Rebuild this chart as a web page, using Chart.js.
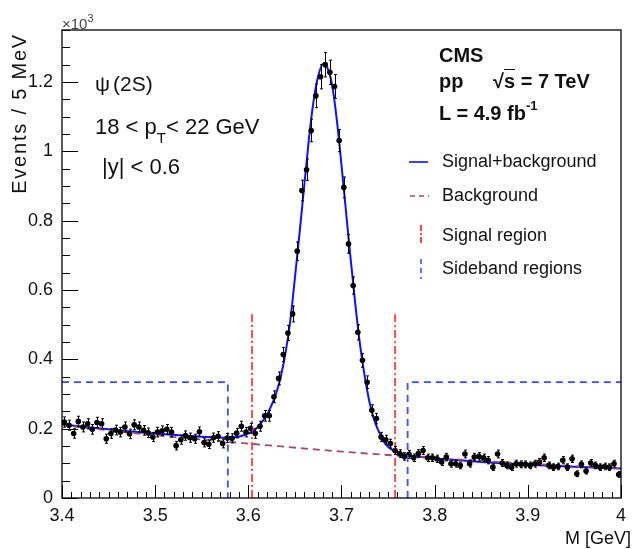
<!DOCTYPE html>
<html>
<head>
<meta charset="utf-8">
<script src="https://cdn.jsdelivr.net/npm/chart.js@4.4.1/dist/chart.umd.min.js"></script>
<style>
  body { margin: 0; background: #fff; }
  #wrap { position: relative; width: 633px; height: 549px; font-family: 'Liberation Sans', Arial, sans-serif; color: #111; }
  #wrap canvas { position: absolute; left: 0; top: 0; }
  .t { position: absolute; white-space: nowrap; line-height: 1; }
  .b { font-weight: bold; }
</style>
</head>
<body>
<div id="wrap">
  <canvas id="massChart" width="633" height="549"></canvas>

  <div class="t" style="left:62px; top:16px; font-size:15px; color:#444;">&times;10<span style="font-size:11px; position:relative; top:-7px;">3</span></div>
  <div class="t" id="ytitle" style="left:8.5px; top:233px; width:200px; font-size:20px; letter-spacing:1.8px; text-align:right; transform-origin:0 0; transform:rotate(-90deg);">Events / 5 MeV</div>
  <div class="t" style="right:2px; top:529px; font-size:18px;">M [GeV]</div>

  <div class="t" style="left:95px; top:73px; font-size:21px;"><span style="margin-right:3px;">&psi;</span>(2S)</div>
  <div class="t" style="left:95px; top:116px; font-size:22px;">18 &lt; p<span style="font-size:15px; position:relative; top:9px;">T</span>&lt; 22 GeV</div>
  <div class="t" style="left:102px; top:156px; font-size:22px;">|y| &lt; 0.6</div>

  <div class="t b" style="left:439px; top:45px; font-size:20px;">CMS</div>
  <div class="t b" style="left:439px; top:71px; font-size:20px;">pp</div>
  <div class="t b" style="left:493px; top:71px; font-size:20px;">&radic;<span style="border-top:1.5px solid #111; font-weight:bold;">s</span> = 7 TeV</div>
  <div class="t b" style="left:439px; top:103px; font-size:20px;">L = 4.9 fb<span style="font-size:13px; position:relative; top:-10px;">-1</span></div>

  <div class="t" style="left:442px; top:152px; font-size:18px;">Signal+background</div>
  <div class="t" style="left:442px; top:186px; font-size:18px;">Background</div>
  <div class="t" style="left:442px; top:226px; font-size:18px;">Signal region</div>
  <div class="t" style="left:442px; top:259px; font-size:18px;">Sideband regions</div>
</div>

<script>
// dimuon mass histogram, 5 MeV bins from 3.4 to 4.0 GeV, counts in units of 10^3
const massLow = 3.4;
const binWidth = 0.005;
const eventsPerBin = [
  0.219, 0.210, 0.186, 0.221, 0.205, 0.214, 0.198, 0.218, 0.214, 0.171,
  0.186, 0.196, 0.190, 0.205, 0.185, 0.211, 0.205, 0.195, 0.188, 0.176,
  0.190, 0.194, 0.198, 0.190, 0.151, 0.168, 0.180, 0.174, 0.171, 0.191,
  0.160, 0.155, 0.174, 0.178, 0.157, 0.173, 0.172, 0.187, 0.207, 0.190,
  0.201, 0.186, 0.207, 0.237, 0.237, 0.292, 0.345, 0.414, 0.476, 0.531,
  0.712, 0.887, 0.947, 1.060, 1.160, 1.215, 1.250, 1.228, 1.187, 1.031,
  0.896, 0.733, 0.613, 0.478, 0.397, 0.334, 0.253, 0.229, 0.176, 0.168,
  0.157, 0.137, 0.128, 0.120, 0.126, 0.116, 0.128, 0.137, 0.116, 0.116,
  0.113, 0.104, 0.118, 0.099, 0.099, 0.094, 0.127, 0.099, 0.118, 0.120,
  0.116, 0.109, 0.089, 0.127, 0.101, 0.094, 0.089, 0.099, 0.097, 0.097,
  0.094, 0.099, 0.104, 0.116, 0.094, 0.089, 0.091, 0.109, 0.089, 0.113,
  0.070, 0.097, 0.078, 0.101, 0.094, 0.089, 0.091, 0.089, 0.099, 0.068
];

// signal+background fit
const fitMass = [
  3.400, 3.425, 3.450, 3.475, 3.500, 3.525, 3.550, 3.570, 3.585, 3.595,
  3.605, 3.612, 3.618, 3.624, 3.630, 3.635, 3.640, 3.645, 3.650, 3.655,
  3.660, 3.665, 3.670, 3.675, 3.680, 3.685, 3.690, 3.695, 3.700, 3.705,
  3.710, 3.715, 3.720, 3.725, 3.730, 3.735, 3.740, 3.745, 3.750, 3.755,
  3.760, 3.770, 3.790, 3.820, 3.850, 3.900, 3.950, 4.000
];
const fitEvents = [
  0.212, 0.205, 0.198, 0.192, 0.186, 0.181, 0.177, 0.174, 0.175, 0.181,
  0.193, 0.210, 0.232, 0.262, 0.303, 0.352, 0.420, 0.510, 0.635, 0.765,
  0.900, 1.035, 1.145, 1.217, 1.252, 1.240, 1.190, 1.090, 0.960, 0.822,
  0.685, 0.555, 0.440, 0.350, 0.277, 0.226, 0.192, 0.164, 0.148, 0.138,
  0.131, 0.124, 0.117, 0.110, 0.104, 0.096, 0.090, 0.085
];

// background component
const bkgMass = [3.4, 3.5, 3.6, 3.7, 3.8, 3.9, 4.0];
const bkgEvents = [0.210, 0.181, 0.157, 0.134, 0.115, 0.099, 0.085];

// mass windows
const signalRegion = [3.604, 3.7575];
const signalLineTop = 0.53;
const sidebandLow = [3.4, 3.578];
const sidebandHigh = [3.771, 4.0];
const sidebandLevel = 0.334;

const points = eventsPerBin.map((v, i) => ({ x: massLow + binWidth * (i + 0.5), y: v }));
const xy = (xs, ys) => xs.map((x, i) => ({ x: x, y: ys[i] }));

const isMajorX = v => Math.abs(v * 10 - Math.round(v * 10)) < 1e-6;
const isMajorY = v => Math.abs(v * 5 - Math.round(v * 5)) < 1e-6;

const blue = '#1010ff';
const sideBlue = '#3b4dff';
const red = '#ff1a1a';
const brown = '#9c4a6e';

// ROOT-like frame, inward ticks, error bars and legend marks
const rootStyle = {
  id: 'rootStyle',
  beforeDatasetsDraw(chart) {
    const { ctx, chartArea: a, scales: { x, y } } = chart;
    ctx.save();
    ctx.strokeStyle = '#000';
    ctx.lineWidth = 1;
    x.ticks.forEach(t => {
      const px = Math.round(x.getPixelForValue(t.value)) + 0.5;
      const len = isMajorX(t.value) ? 13 : 6;
      ctx.beginPath();
      ctx.moveTo(px, a.bottom);
      ctx.lineTo(px, a.bottom - len);
      ctx.stroke();
    });
    y.ticks.forEach(t => {
      const py = Math.round(y.getPixelForValue(t.value)) + 0.5;
      const len = isMajorY(t.value) ? 16 : 8;
      ctx.beginPath();
      ctx.moveTo(a.left, py);
      ctx.lineTo(a.left + len, py);
      ctx.stroke();
    });
    ctx.restore();
  },
  afterDatasetsDraw(chart) {
    const { ctx, chartArea: a, scales: { x, y } } = chart;
    ctx.save();
    ctx.strokeStyle = '#000';
    ctx.lineWidth = 1;
    points.forEach(p => {
      const err = Math.sqrt(p.y * 1000) / 1000;
      const px = Math.round(x.getPixelForValue(p.x)) + 0.5;
      const py = y.getPixelForValue(p.y);
      const top = y.getPixelForValue(p.y + err);
      const bot = y.getPixelForValue(p.y - err);
      ctx.beginPath();
      ctx.moveTo(px, top); ctx.lineTo(px, bot);
      ctx.moveTo(px - 1.5, top); ctx.lineTo(px + 1.5, top);
      ctx.moveTo(px - 1.5, bot); ctx.lineTo(px + 1.5, bot);
      ctx.moveTo(x.getPixelForValue(p.x - binWidth / 2), py);
      ctx.lineTo(x.getPixelForValue(p.x + binWidth / 2), py);
      ctx.stroke();
    });
    ctx.lineWidth = 1.3;
    ctx.strokeRect(a.left, a.top, a.right - a.left, a.bottom - a.top);
    ctx.restore();
  },
  afterDraw(chart) {
    const ctx = chart.ctx;
    const mark = (color, dash, width, x1, y1, x2, y2) => {
      ctx.save();
      ctx.strokeStyle = color;
      ctx.lineWidth = width;
      ctx.setLineDash(dash);
      ctx.beginPath();
      ctx.moveTo(x1, y1);
      ctx.lineTo(x2, y2);
      ctx.stroke();
      ctx.restore();
    };
    mark(blue, [], 1.6, 409, 162, 428, 162);
    mark(brown, [5, 4], 1.6, 410, 196, 429, 196);
    mark(red, [6, 2, 2, 2], 1.6, 421, 225, 421, 245);
    mark(sideBlue, [5, 4], 1.6, 421, 259, 421, 279);
  }
};

const tickFont = { family: "'Liberation Sans', Arial, sans-serif", size: 18 };

new Chart(document.getElementById('massChart'), {
  type: 'scatter',
  data: {
    datasets: [
      {
        label: 'Data',
        data: points,
        showLine: false,
        pointRadius: 2.8,
        pointBackgroundColor: '#000',
        pointBorderWidth: 0,
        order: 2
      },
      {
        label: 'Signal+background',
        data: xy(fitMass, fitEvents),
        showLine: true,
        borderColor: blue,
        borderWidth: 2,
        pointRadius: 0,
        cubicInterpolationMode: 'monotone',
        order: 5
      },
      {
        label: 'Background',
        data: xy(bkgMass, bkgEvents),
        showLine: true,
        borderColor: brown,
        borderWidth: 1.8,
        borderDash: [7, 5],
        pointRadius: 0,
        cubicInterpolationMode: 'monotone',
        order: 4
      },
      {
        label: 'Sideband low',
        data: [
          { x: sidebandLow[0], y: sidebandLevel },
          { x: sidebandLow[1], y: sidebandLevel },
          { x: sidebandLow[1], y: 0 }
        ],
        showLine: true,
        borderColor: sideBlue,
        borderWidth: 1.8,
        borderDash: [7, 5],
        pointRadius: 0,
        order: 1
      },
      {
        label: 'Sideband high',
        data: [
          { x: sidebandHigh[0], y: 0 },
          { x: sidebandHigh[0], y: sidebandLevel },
          { x: sidebandHigh[1], y: sidebandLevel }
        ],
        showLine: true,
        borderColor: sideBlue,
        borderWidth: 1.8,
        borderDash: [7, 5],
        pointRadius: 0,
        order: 1
      },
      {
        label: 'Signal low',
        data: [{ x: signalRegion[0], y: 0 }, { x: signalRegion[0], y: signalLineTop }],
        showLine: true,
        borderColor: red,
        borderWidth: 1.5,
        borderDash: [8, 3, 2, 3],
        pointRadius: 0,
        order: 0
      },
      {
        label: 'Signal high',
        data: [{ x: signalRegion[1], y: 0 }, { x: signalRegion[1], y: signalLineTop }],
        showLine: true,
        borderColor: red,
        borderWidth: 1.5,
        borderDash: [8, 3, 2, 3],
        pointRadius: 0,
        order: 0
      }
    ]
  },
  options: {
    responsive: false,
    animation: false,
    devicePixelRatio: 1,
    layout: { padding: { top: 30, right: 5, left: 0, bottom: 0 } },
    plugins: { legend: { display: false }, tooltip: { enabled: false } },
    scales: {
      x: {
        type: 'linear',
        min: 3.4,
        max: 4.0,
        grid: { display: false, drawTicks: false },
        border: { display: false },
        afterFit: s => { s.height = 51; },
        ticks: {
          stepSize: 0.01,
          autoSkip: false,
          maxRotation: 0,
          minRotation: 0,
          padding: 7,
          color: '#111',
          font: tickFont,
          callback: v => isMajorX(v) ? String(Number(v.toFixed(1))) : ''
        }
      },
      y: {
        type: 'linear',
        min: 0,
        max: 1.35,
        grid: { display: false, drawTicks: false },
        border: { display: false },
        afterFit: s => { s.width = 62; },
        ticks: {
          stepSize: 0.05,
          autoSkip: false,
          padding: 9,
          color: '#111',
          font: tickFont,
          callback: v => isMajorY(v) ? String(Number(v.toFixed(1))) : ''
        }
      }
    }
  },
  plugins: [rootStyle]
});
</script>
</body>
</html>
